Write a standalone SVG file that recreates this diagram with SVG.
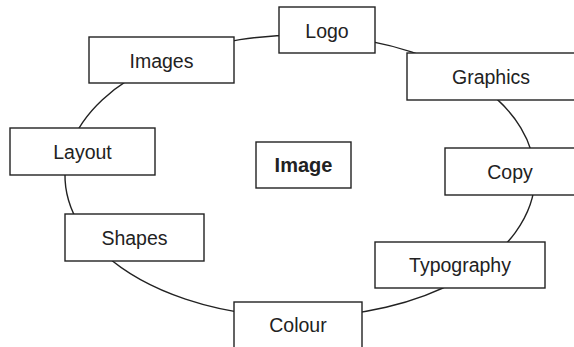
<svg xmlns="http://www.w3.org/2000/svg" width="574" height="347" viewBox="0 0 574 347">
<style>
.box{fill:#fff;stroke:#222;stroke-width:1.4}
.lbl{font-family:"Liberation Sans",Arial,sans-serif;font-size:19.5px;fill:#222;text-anchor:middle}
.bold{font-weight:bold;font-size:20px}
.arc{fill:none;stroke:#222;stroke-width:1.4}
</style>
<rect width="574" height="347" fill="#fff"/>
<g id="connectors">
<path class="arc" d="M161 62.3 A235 141 0 0 1 327 35.9"/>
<path class="arc" d="M327 35.9 A235 141 0 0 1 480 85.4"/>
<path class="arc" d="M480 85.4 A235 141 0 0 1 535 176"/>
<path class="arc" d="M535 176 A235 141 0 0 1 460 279.3"/>
<path class="arc" d="M460 279.3 A235 141 0 0 1 300 317"/>
<path class="arc" d="M300 317 A235 141 0 0 1 100 250"/>
<path class="arc" d="M100 250 A235 141 0 0 1 70 147.1"/>
<path class="arc" d="M70 147.1 A235 141 0 0 1 161 62.3"/>
</g>
<g id="node-logo"><rect class="box" x="279" y="7" width="96" height="46"/><text class="lbl" x="327" y="37.5">Logo</text></g>
<g id="node-images"><rect class="box" x="89" y="37" width="145" height="46"/><text class="lbl" x="161.5" y="67.5">Images</text></g>
<g id="node-graphics"><rect class="box" x="407" y="53" width="170" height="47"/><text class="lbl" x="491" y="83.5">Graphics</text></g>
<g id="node-layout"><rect class="box" x="10" y="128" width="145" height="47"/><text class="lbl" x="82.5" y="158.5">Layout</text></g>
<g id="node-image"><rect class="box" x="256" y="142" width="95" height="46"/><text class="lbl bold" x="303.5" y="172">Image</text></g>
<g id="node-copy"><rect class="box" x="445" y="148" width="132" height="47"/><text class="lbl" x="510" y="178.5">Copy</text></g>
<g id="node-shapes"><rect class="box" x="65" y="214" width="139" height="47"/><text class="lbl" x="134.5" y="244.5">Shapes</text></g>
<g id="node-typography"><rect class="box" x="375" y="242" width="170" height="46"/><text class="lbl" x="460" y="272">Typography</text></g>
<g id="node-colour"><rect class="box" x="234" y="302" width="128" height="48"/><text class="lbl" x="298" y="332">Colour</text></g>
</svg>
